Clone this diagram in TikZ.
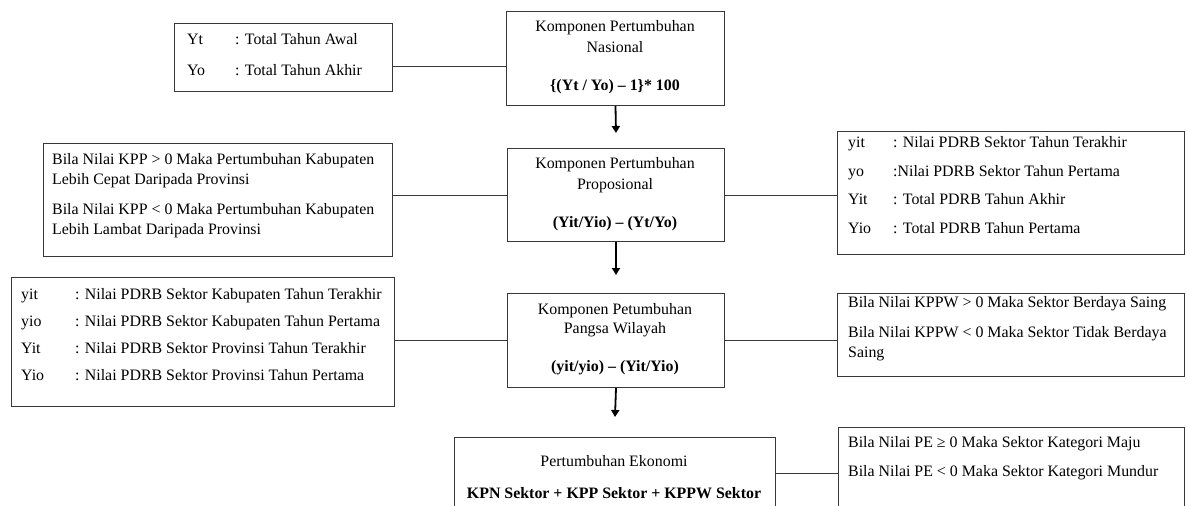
\documentclass[tikz,border=0pt]{standalone}
\usepackage{fontspec}
\setmainfont{Liberation Serif}
\usetikzlibrary{arrows.meta}
\begin{document}
\begin{tikzpicture}[x=1pt,y=-1pt,
  font=\fontsize{15.9}{19}\selectfont,
  box/.style={draw=black!78, line width=1pt, inner sep=0pt, anchor=north west},
  link/.style={draw=black!78, line width=1pt},
  flow/.style={draw=black, line width=1.8pt, -{Triangle[width=8pt,length=7pt]}},
  txt/.style={anchor=base west, inner sep=0pt},
  ctr/.style={anchor=base, inner sep=0pt}]
\clip (0,0) rectangle (1187,506);
\useasboundingbox (0,0) rectangle (1187,506);

% ---- boxes ----
\node[box, minimum width=218pt, minimum height=68pt]  (defA)     at (174,23)  {};
\node[box, minimum width=218pt, minimum height=94pt]  (nas)      at (506,11)  {};
\node[box, minimum width=349pt, minimum height=113pt] (kppnote)  at (43,143)  {};
\node[box, minimum width=217pt, minimum height=93pt]  (kpp)      at (507,148) {};
\node[box, minimum width=347pt, minimum height=123pt] (defB)     at (837,131) {};
\node[box, minimum width=383pt, minimum height=129pt] (defC)     at (11,277)  {};
\node[box, minimum width=217pt, minimum height=94pt]  (kppw)     at (507,293) {};
\node[box, minimum width=347pt, minimum height=83pt]  (kppwnote) at (837,293) {};
\node[box, minimum width=321pt, minimum height=72pt]  (pe)       at (454,437) {};
\node[box, minimum width=346pt, minimum height=100pt] (penote)   at (838,427) {};

% ---- side connectors ----
\draw[link] ([yshift=-9pt]defA.east) -- ([yshift=-8pt]nas.west);
\draw[link] (kpp.west) -- (kpp.west -| kppnote.east);
\draw[link] (kpp.east) -- (kpp.east -| defB.west);
\draw[link] (kppw.west) -- (kppw.west -| defC.east);
\draw[link] (kppw.east) -- (kppw.east -| kppwnote.west);
\draw[link] (pe.east) -- (pe.east -| penote.west);

% ---- main flow ----
\draw[flow] (nas.south) -- ([yshift=15pt]kpp.north);
\draw[flow] (kpp.south) -- ([yshift=18pt]kppw.north);
\draw[flow] (kppw.south) -- ([yshift=20pt]pe.north);

% ---- national component ----
\node[txt] (a1) at (187,45) {Yt};
\node[txt] (a2) at (235,45) {: Total Tahun Awal};
\node[txt] (a3) at (187,75) {Yo};
\node[txt] (a4) at (235,75) {: Total Tahun Akhir};
\node[ctr] (n1) at (615,31) {Komponen Pertumbuhan};
\node[ctr] (n2) at (615,52) {Nasional};
\node[ctr] (n3) at (615,90) {\bfseries \{(Yt / Yo) – 1\}* 100};

% ---- proportional component ----
\node[txt] (k1) at (52,164) {Bila Nilai KPP > 0 Maka Pertumbuhan Kabupaten};
\node[txt] (k2) at (52,184) {Lebih Cepat Daripada Provinsi};
\node[txt] (k3) at (52,214) {Bila Nilai KPP < 0 Maka Pertumbuhan Kabupaten};
\node[txt] (k4) at (52,234) {Lebih Lambat Daripada Provinsi};
\node[ctr] (p1) at (615,168) {Komponen Pertumbuhan};
\node[ctr] (p2) at (615,189) {Proposional};
\node[ctr] (p3) at (615,227) {\bfseries (Yit/Yio) – (Yt/Yo)};
\node[txt] (b1) at (848,147) {yit};
\node[txt] (b2) at (893,147) {: Nilai PDRB Sektor Tahun Terakhir};
\node[txt] (b3) at (848,176) {yo};
\node[txt] (b4) at (893,176) {:Nilai PDRB Sektor Tahun Pertama};
\node[txt] (b5) at (848,204) {Yit};
\node[txt] (b6) at (893,204) {: Total PDRB Tahun Akhir};
\node[txt] (b7) at (848,233) {Yio};
\node[txt] (b8) at (893,233) {: Total PDRB Tahun Pertama};

% ---- regional share component ----
\node[txt] (c1) at (21,299) {yit};
\node[txt] (c2) at (75,299) {: Nilai PDRB Sektor Kabupaten Tahun Terakhir};
\node[txt] (c3) at (21,326) {yio};
\node[txt] (c4) at (75,326) {: Nilai PDRB Sektor Kabupaten Tahun Pertama};
\node[txt] (c5) at (21,353) {Yit};
\node[txt] (c6) at (75,353) {: Nilai PDRB Sektor Provinsi Tahun Terakhir};
\node[txt] (c7) at (21,380) {Yio};
\node[txt] (c8) at (75,380) {: Nilai PDRB Sektor Provinsi Tahun Pertama};
\node[ctr] (w1) at (615,314) {Komponen Petumbuhan};
\node[ctr] (w2) at (615,333) {Pangsa Wilayah};
\node[ctr] (w3) at (615,371) {\bfseries (yit/yio) – (Yit/Yio)};
\node[txt] (s1) at (848,307) {Bila Nilai KPPW > 0 Maka Sektor Berdaya Saing};
\node[txt] (s2) at (848,337) {Bila Nilai KPPW < 0 Maka Sektor Tidak Berdaya};
\node[txt] (s3) at (848,357) {Saing};

% ---- economic growth ----
\node[ctr] (e1) at (614,466) {Pertumbuhan Ekonomi};
\node[ctr] (e2) at (614,498) {\bfseries KPN Sektor + KPP Sektor + KPPW Sektor};
\node[txt] (m1) at (848,447) {Bila Nilai PE ≥ 0 Maka Sektor Kategori Maju};
\node[txt] (m2) at (848,476) {Bila Nilai PE < 0 Maka Sektor Kategori Mundur};
\end{tikzpicture}
\end{document}
